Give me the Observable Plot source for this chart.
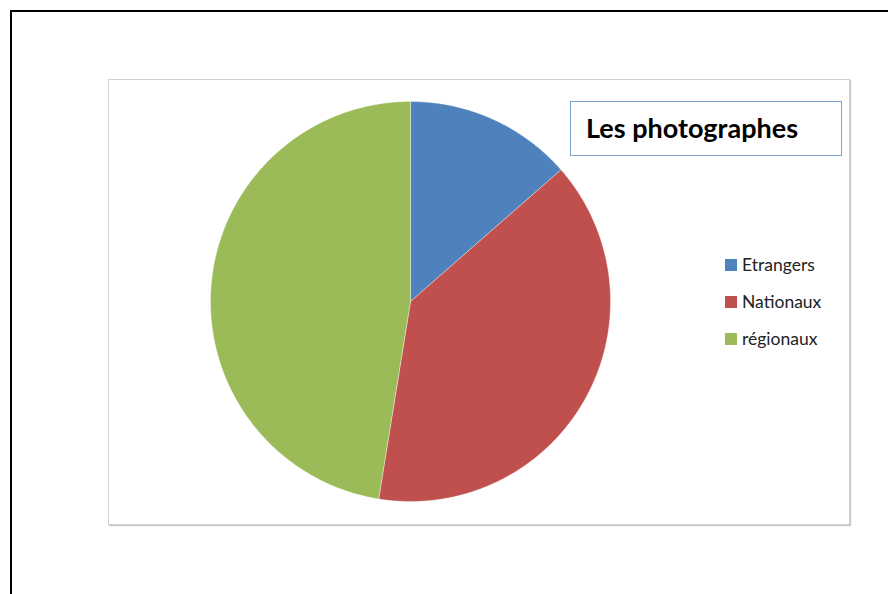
<!DOCTYPE html>
<html>
<head>
<meta charset="utf-8">
<script src="https://cdn.jsdelivr.net/npm/d3@7"></script>
<script src="https://cdn.jsdelivr.net/npm/@observablehq/plot@0.6"></script>
<style>
  html, body { margin: 0; padding: 0; background: #fff; }
  #page { position: relative; width: 888px; height: 594px; overflow: hidden; background: #fff; }
  .vline { position: absolute; left: 10px; top: 10px; width: 2px; height: 600px; background: #000; }
  .hline { position: absolute; left: 10px; top: 10px; width: 900px; height: 2px; background: #000; }
  #area { position: absolute; left: 108px; top: 79px; width: 740px; height: 444px; border: 1px solid #d0d0d0; box-shadow: 1px 1px 1px #c8c8c8; }
  #pie { position: absolute; left: 210px; top: 101px; }
  #titlebox { position: absolute; left: 570px; top: 101px; width: 270px; height: 53px; border: 1.5px solid #7ea3d3; }
  #title { position: absolute; left: 15px; top: 9px; font-family: Lato, sans-serif; font-weight: bold; font-size: 27px; color: #000; white-space: nowrap; }
  .item { position: absolute; left: 725px; height: 20px; display: flex; align-items: center; font-family: Lato, sans-serif; font-size: 17.5px; color: #222; white-space: nowrap; }
  .sw { width: 12px; height: 12px; margin-right: 5px; }
</style>
</head>
<body>
<div id="page">
  <div class="hline"></div>
  <div class="vline"></div>
  <div id="area"></div>
  <div id="pie"></div>
  <div id="titlebox"><div id="title"></div></div>
</div>
<script>
const titleText = "Les photographes";
const names = ["Etrangers", "Nationaux", "régionaux"];
const counts = [8, 23, 28];
const colors = ["#4f81bd", "#c0504d", "#9bbb59"];

const slices = d3.pie().sort(null).value((d, i) => counts[i])(names);
const pts = [];
slices.forEach((s, i) => {
  pts.push({name: names[i], x: 0, y: 0});
  const n = Math.max(2, Math.ceil((s.endAngle - s.startAngle) / 0.005));
  for (let k = 0; k <= n; k++) {
    const a = s.startAngle + (s.endAngle - s.startAngle) * k / n;
    pts.push({name: names[i], x: Math.sin(a), y: Math.cos(a)});
  }
  pts.push({name: names[i], x: 0, y: 0});
});

const chart = Plot.plot({
  width: 400,
  height: 400,
  margin: 0,
  style: {background: "transparent", overflow: "visible"},
  x: {domain: [-1, 1], axis: null},
  y: {domain: [-1, 1], axis: null},
  color: {domain: names, range: colors},
  marks: [
    Plot.line(pts, {x: "x", y: "y", z: "name", fill: "name", stroke: "white", strokeOpacity: 0.5, strokeWidth: 0.7, curve: "linear"})
  ]
});
document.getElementById("pie").appendChild(chart);
document.getElementById("title").textContent = titleText;

const page = document.getElementById("page");
const centers = [264.5, 301.5, 338.5];
names.forEach((n, i) => {
  const it = document.createElement("div");
  it.className = "item";
  it.style.top = (centers[i] - 10) + "px";
  const sw = document.createElement("div");
  sw.className = "sw";
  sw.style.background = colors[i];
  it.appendChild(sw);
  const t = document.createElement("span");
  t.textContent = n;
  it.appendChild(t);
  page.appendChild(it);
});
</script>
</body>
</html>
